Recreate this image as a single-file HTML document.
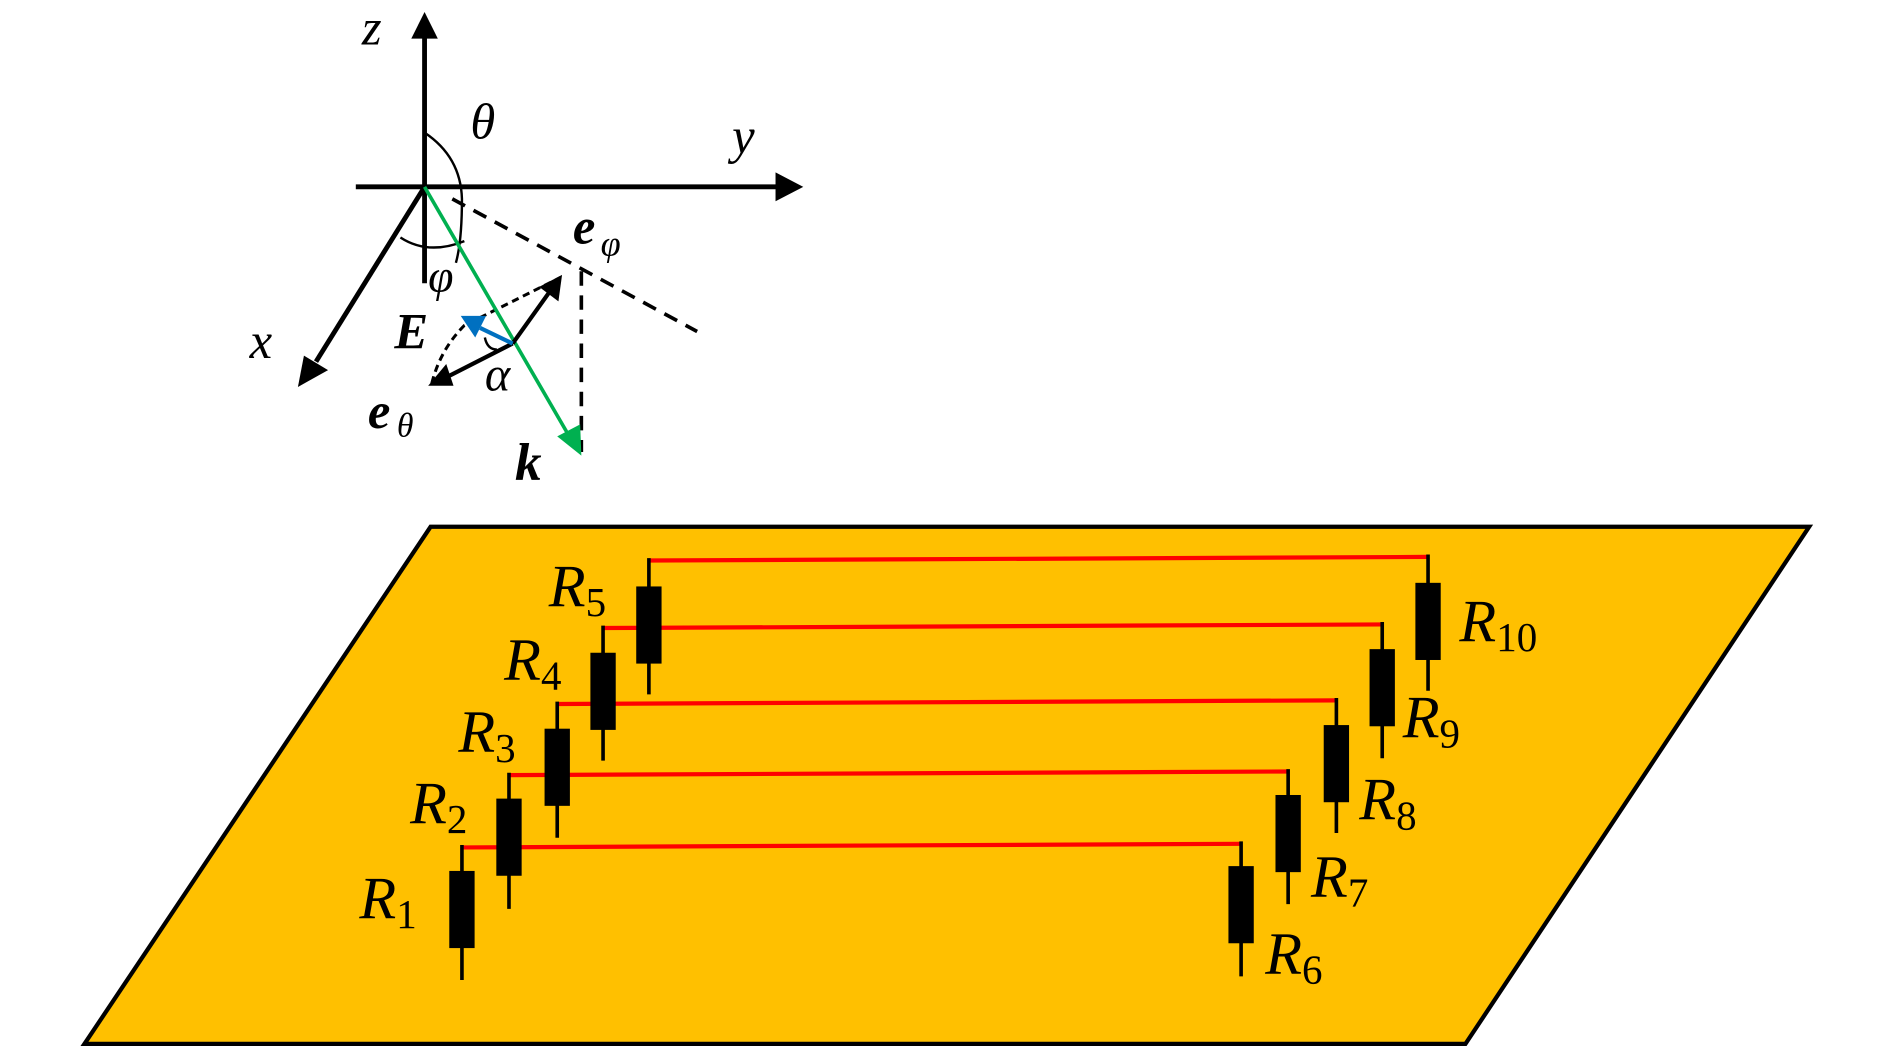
<!DOCTYPE html>
<html><head><meta charset="utf-8"><style>html,body{margin:0;padding:0;background:#fff}svg{display:block}text{font-family:"Liberation Serif",serif;font-style:italic}</style></head>
<body>
<svg width="1890" height="1062" viewBox="0 0 1567 881" preserveAspectRatio="none" xmlns="http://www.w3.org/2000/svg">
<line x1="352" y1="235" x2="352" y2="30" stroke="#000" stroke-width="4"/>
<path d="M341,32 L352,10 L363,32z" fill="#000"/>
<line x1="295" y1="155" x2="645" y2="155" stroke="#000" stroke-width="4"/>
<path d="M643,143 L666,155 L643,167z" fill="#000"/>
<line x1="352" y1="155" x2="262" y2="300" stroke="#000" stroke-width="4"/>
<path d="M247,321 L252,295 L272,307z" fill="#000"/>
<path d="M352,110 Q382,130 383,165 Q383,200 378,218" fill="none" stroke="#000" stroke-width="2"/>
<path d="M332,197 Q355,212 385,200" fill="none" stroke="#000" stroke-width="2"/>
<line x1="375" y1="165" x2="578" y2="275" stroke="#000" stroke-width="3" stroke-dasharray="12,8"/>
<line x1="482" y1="225" x2="482" y2="375" stroke="#000" stroke-width="3" stroke-dasharray="12,8"/>
<path d="M358,318 Q365,290 385,270 L465,230" fill="none" stroke="#000" stroke-width="2.5" stroke-dasharray="6,4"/>
<line x1="352" y1="155" x2="472" y2="362" stroke="#00b050" stroke-width="3"/>
<path d="M462,362 L482,378 L481,352z" fill="#00b050"/>
<line x1="425" y1="285" x2="455" y2="243" stroke="#000" stroke-width="3.5"/>
<path d="M447,238 L466,228 L463,250z" fill="#000"/>
<line x1="425" y1="285" x2="372" y2="312" stroke="#000" stroke-width="3.5"/>
<path d="M355,320 L370,302 L376,320z" fill="#000"/>
<line x1="425" y1="285" x2="398" y2="272" stroke="#0070c0" stroke-width="3.5"/>
<path d="M382,262 L403,262 L394,280z" fill="#0070c0"/>
<path d="M402,280 Q404,290 412,290" fill="none" stroke="#000" stroke-width="2"/>
<text x="300" y="37" font-size="42">z</text>
<text x="390" y="115" font-size="42">θ</text>
<text x="607" y="127" font-size="42">y</text>
<text x="207" y="297" font-size="42">x</text>
<text x="355" y="242" font-size="38">φ</text>
<text x="475" y="202" font-size="42" font-weight="bold">e</text><text x="498" y="212" font-size="30">φ</text>
<text x="327" y="289" font-size="42" font-weight="bold">E</text>
<text x="402" y="324" font-size="40">α</text>
<text x="305" y="355" font-size="42" font-weight="bold">e</text><text x="329" y="362" font-size="28">θ</text>
<text x="427" y="398" font-size="44" font-weight="bold">k</text>
<path d="M357,437 L1500,437 L1215,866 L70,866z" fill="#ffc000" stroke="#000" stroke-width="3.5"/>
<g stroke="#ff0000" stroke-width="3.5">
<line x1="383" y1="703" x2="1029" y2="700"/>
<line x1="422" y1="643" x2="1068" y2="640"/>
<line x1="462" y1="584" x2="1108" y2="581"/>
<line x1="500" y1="521" x2="1146" y2="518"/>
<line x1="538" y1="465" x2="1184" y2="462"/>
</g>
<g stroke="#000" stroke-width="3" fill="#000">
<line x1="383" y1="701" x2="383" y2="813"/><rect x="374" y="724" width="18" height="61"/>
<line x1="422" y1="641" x2="422" y2="754"/><rect x="413" y="664" width="18" height="61"/>
<line x1="462" y1="582" x2="462" y2="695"/><rect x="453" y="606" width="18" height="61"/>
<line x1="500" y1="519" x2="500" y2="631"/><rect x="491" y="543" width="18" height="61"/>
<line x1="538" y1="463" x2="538" y2="576"/><rect x="529" y="488" width="18" height="61"/>
<line x1="1029" y1="698" x2="1029" y2="810"/><rect x="1020" y="720" width="18" height="61"/>
<line x1="1068" y1="638" x2="1068" y2="750"/><rect x="1059" y="661" width="18" height="61"/>
<line x1="1108" y1="579" x2="1108" y2="691"/><rect x="1099" y="603" width="18" height="61"/>
<line x1="1146" y1="516" x2="1146" y2="629"/><rect x="1137" y="540" width="18" height="61"/>
<line x1="1184" y1="460" x2="1184" y2="573"/><rect x="1175" y="485" width="18" height="61"/>
</g>
<g font-size="50">
<text x="298" y="762">R<tspan font-style="normal" font-size="34" dy="8">1</tspan></text>
<text x="340" y="683">R<tspan font-style="normal" font-size="34" dy="8">2</tspan></text>
<text x="380" y="624">R<tspan font-style="normal" font-size="34" dy="8">3</tspan></text>
<text x="418" y="564">R<tspan font-style="normal" font-size="34" dy="8">4</tspan></text>
<text x="455" y="503">R<tspan font-style="normal" font-size="34" dy="8">5</tspan></text>
<text x="1049" y="808">R<tspan font-style="normal" font-size="34" dy="8">6</tspan></text>
<text x="1087" y="744">R<tspan font-style="normal" font-size="34" dy="8">7</tspan></text>
<text x="1127" y="680">R<tspan font-style="normal" font-size="34" dy="8">8</tspan></text>
<text x="1163" y="612">R<tspan font-style="normal" font-size="34" dy="8">9</tspan></text>
<text x="1210" y="532">R<tspan font-style="normal" font-size="34" dy="8">10</tspan></text>
</g>
</svg>
</body></html>
